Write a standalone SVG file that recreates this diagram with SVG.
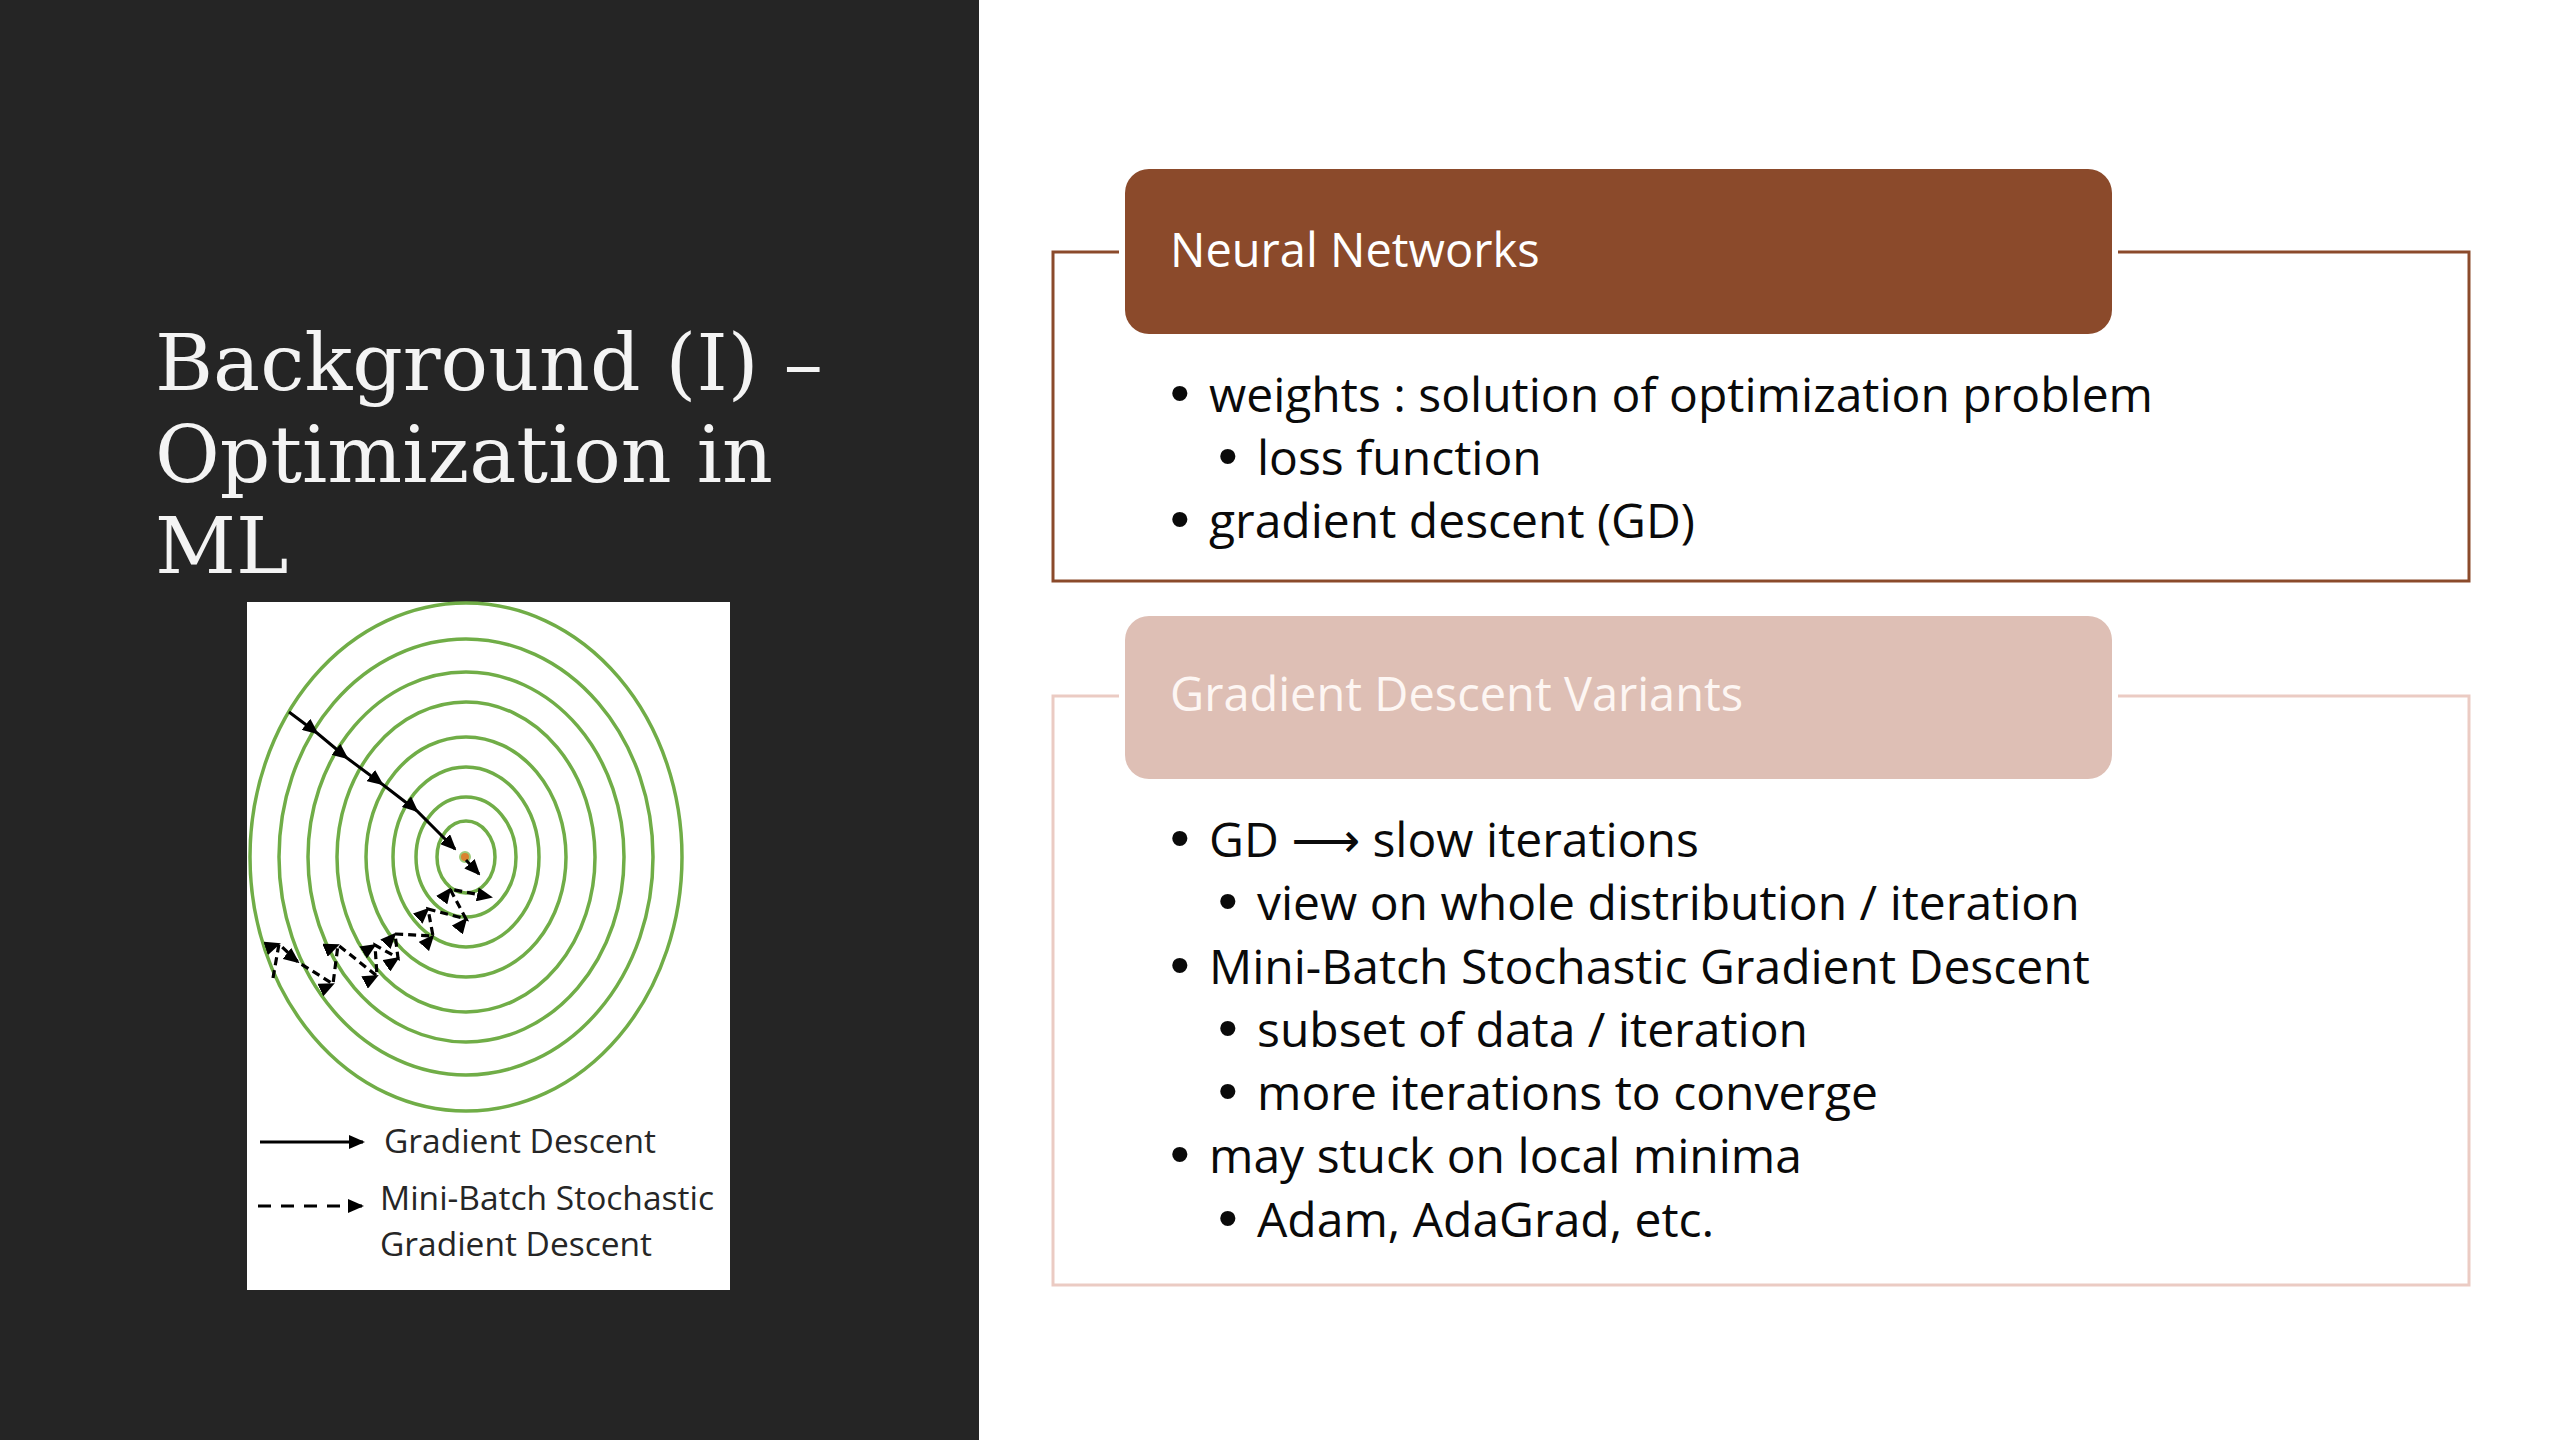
<svg xmlns="http://www.w3.org/2000/svg" width="2560" height="1440" viewBox="0 0 2560 1440">
<style>
.title{font-family:"DejaVu Serif","Liberation Serif",serif;font-size:79px;fill:#f4f4f4}
.hdr{font-family:"Open Sans","Liberation Sans",sans-serif;font-size:47px}
.body{font-family:"Open Sans","Liberation Sans","DejaVu Sans",sans-serif;font-size:48px;fill:#0a0a0a}
.bul{font-family:"Liberation Sans","DejaVu Sans",sans-serif;font-size:56px;fill:#0a0a0a}
.leg{font-family:"Open Sans","Liberation Sans",sans-serif;font-size:33.5px;fill:#262626}
.ring{fill:none;stroke:#70AD47;stroke-width:3.5}
.gd{fill:none;stroke:#000;stroke-width:3;marker-mid:url(#ah);marker-end:url(#ah)}
.sgd{fill:none;stroke:#000;stroke-width:3.2;stroke-dasharray:8 5;marker-mid:url(#ah);marker-end:url(#ah)}
</style>
<defs>
<marker id="ah" markerUnits="userSpaceOnUse" markerWidth="16" markerHeight="14" refX="14" refY="7" orient="auto">
<path d="M0,0 L16,7 L0,14 z" fill="#000"/>
</marker>
</defs>
<rect x="0" y="0" width="2560" height="1440" fill="#ffffff"/>
<rect x="0" y="0" width="979" height="1440" fill="#252525"/>

<g id="title">
<text class="title" x="155" y="390">Background (I) –</text>
<text class="title" x="155" y="482">Optimization in</text>
<text class="title" x="155" y="573">ML</text>
</g>

<g id="figure">
<rect x="247" y="602" width="483" height="688" fill="#ffffff"/>
<ellipse class="ring" cx="466" cy="857" rx="216" ry="254"/>
<ellipse class="ring" cx="466" cy="857" rx="187" ry="218"/>
<ellipse class="ring" cx="466" cy="857" rx="158" ry="185"/>
<ellipse class="ring" cx="466" cy="857" rx="129" ry="155"/>
<ellipse class="ring" cx="466" cy="857" rx="100" ry="120"/>
<ellipse class="ring" cx="466" cy="857" rx="73" ry="90"/>
<ellipse class="ring" cx="466" cy="857" rx="50" ry="60"/>
<ellipse class="ring" cx="466" cy="857" rx="29" ry="36"/>
<circle cx="465" cy="857" r="5" fill="#D9822F" stroke="#9CCB7A" stroke-width="2"/>
<g id="figure-paths">
<polyline class="gd" points="289,712 317,733 347,758 382,784 417,811 455,849"/>
<polyline class="sgd" points="273,978 279,944 298,962 333,984 338,945 377,976 375,945 398,958 395,934 433,936 428,909 466,919 450,889 491,897"/>
<line x1="466" y1="860" x2="479" y2="874" stroke="#000" stroke-width="3" marker-end="url(#ah)"/>
<line x1="260" y1="1142" x2="363" y2="1142" stroke="#000" stroke-width="3" marker-end="url(#ah)"/>
<line x1="258" y1="1206" x2="362" y2="1206" stroke="#000" stroke-width="3" stroke-dasharray="13 10" marker-end="url(#ah)"/>
</g>
<text class="leg" x="384" y="1153">Gradient Descent</text>
<text class="leg" x="380" y="1210">Mini-Batch Stochastic</text>
<text class="leg" x="380" y="1256">Gradient Descent</text>
</g>

<g id="connectors"></g>

<g id="node-neural-networks">
<rect x="1053" y="252" width="1416" height="329" fill="none" stroke="#8B4A2B" stroke-width="3"/>
<rect x="1119" y="163" width="999" height="177" rx="28" fill="#ffffff"/>
<rect x="1125" y="169" width="987" height="165" rx="24" fill="#8B4A2B"/>
<text class="hdr" x="1170" y="267" fill="#ffffff">Neural Networks</text>
<text class="bul" x="1170" y="412">•</text>
<text class="body" x="1209" y="412">weights : solution of optimization problem</text>
<text class="bul" x="1218" y="475">•</text>
<text class="body" x="1257" y="475">loss function</text>
<text class="bul" x="1170" y="538">•</text>
<text class="body" x="1209" y="538">gradient descent (GD)</text>
</g>

<g id="node-gd-variants">
<rect x="1053" y="696" width="1416" height="589" fill="none" stroke="#EBCBC3" stroke-width="3"/>
<rect x="1119" y="610" width="999" height="175" rx="28" fill="#ffffff"/>
<rect x="1125" y="616" width="987" height="163" rx="24" fill="#DEBFB5"/>
<text class="hdr" x="1170" y="711" fill="#FDF6F3">Gradient Descent Variants</text>
<text class="bul" x="1170" y="857">•</text>
<text class="body" x="1209" y="857">GD ⟶ slow iterations</text>
<text class="bul" x="1218" y="920">•</text>
<text class="body" x="1257" y="920">view on whole distribution / iteration</text>
<text class="bul" x="1170" y="984">•</text>
<text class="body" x="1209" y="984">Mini-Batch Stochastic Gradient Descent</text>
<text class="bul" x="1218" y="1047">•</text>
<text class="body" x="1257" y="1047">subset of data / iteration</text>
<text class="bul" x="1218" y="1110">•</text>
<text class="body" x="1257" y="1110">more iterations to converge</text>
<text class="bul" x="1170" y="1173">•</text>
<text class="body" x="1209" y="1173">may stuck on local minima</text>
<text class="bul" x="1218" y="1237">•</text>
<text class="body" x="1257" y="1237">Adam, AdaGrad, etc.</text>
</g>
</svg>
